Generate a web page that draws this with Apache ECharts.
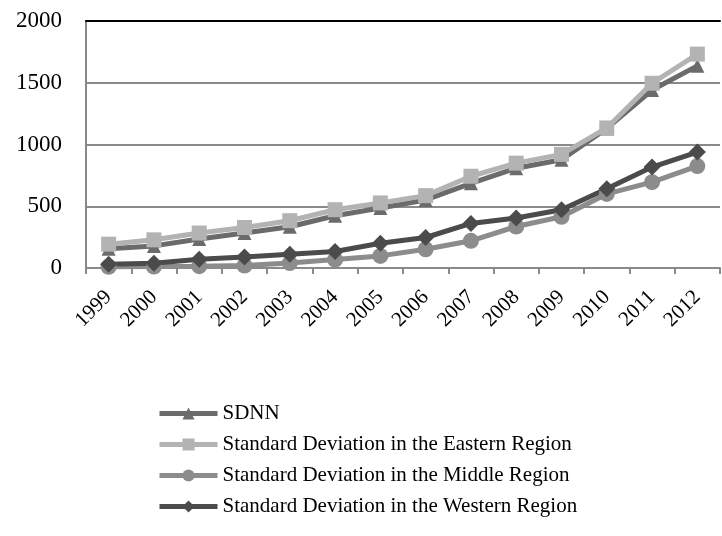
<!DOCTYPE html>
<html>
<head>
<meta charset="utf-8">
<script src="https://cdn.jsdelivr.net/npm/echarts@6/dist/echarts.min.js"></script>
<style>
  html, body { margin: 0; padding: 0; background: #fff; }
  #main { width: 722px; height: 536px; }
</style>
</head>
<body>
<div id="main"></div>
<script>
var years = ['1999','2000','2001','2002','2003','2004','2005','2006','2007','2008','2009','2010','2011','2012'];
var yTicks = [0, 500, 1000, 1500, 2000];

var sdnn    = [155, 179, 235, 283, 334, 423, 486, 551, 686, 808, 877, 1130, 1441, 1637];
var eastern = [193, 228, 283, 328, 383, 472, 527, 586, 743, 849, 920, 1134, 1496, 1732];
var middle  = [10, 12, 15, 20, 40, 68, 98, 152, 220, 336, 415, 600, 695, 825];
var western = [30, 38, 71, 90, 112, 133, 201, 247, 361, 405, 472, 641, 817, 939];

var font = 'Liberation Serif';

var chart = echarts.init(document.getElementById('main'));

// one line series, same look for all four
var mkLine = function(name, data, color, symbol, size){
  return {
    name: name,
    type: 'line',
    data: data,
    symbol: symbol,
    symbolSize: size,
    lineStyle: { color: color, width: 5 },
    itemStyle: { color: color },
    z: 3
  };
};

chart.setOption({
  animation: false,
  backgroundColor: '#fff',
  textStyle: { fontFamily: font },
  grid: { left: 86, right: 2, top: 21, bottom: 268 },
  legend: {
    orient: 'vertical',
    left: 152,
    top: 398,
    itemWidth: 58,
    itemHeight: 15,
    itemGap: 10,
    lineStyle: { width: 5 },
    textStyle: { fontFamily: font, fontSize: 21, color: '#000' },
    data: ['SDNN',
      'Standard Deviation in the Eastern Region',
      'Standard Deviation in the Middle Region',
      'Standard Deviation in the Western Region']
  },
  xAxis: [{
    type: 'category',
    data: years,
    boundaryGap: true,
    axisLine: { lineStyle: { color: '#8a8a8a', width: 2 } },
    axisTick: { show: true, length: 6, lineStyle: { color: '#8a8a8a', width: 2 } },
    axisLabel: { rotate: 45, fontFamily: font, fontSize: 21, color: '#000', margin: 26, interval: 0 },
    splitLine: { show: false }
  }, {
    // black border along the top of the plot
    type: 'category',
    position: 'top',
    data: years,
    axisLine: { lineStyle: { color: '#000', width: 2 } },
    axisTick: { show: false },
    axisLabel: { show: false }
  }],
  yAxis: {
    type: 'value',
    min: yTicks[0],
    max: yTicks[yTicks.length - 1],
    interval: 500,
    axisLine: { show: true, lineStyle: { color: '#8a8a8a', width: 2 } },
    axisTick: { show: false },
    axisLabel: { fontFamily: font, fontSize: 23, color: '#000', margin: 24,
      formatter: function(v){ return String(v); } },
    splitLine: { lineStyle: { color: '#8a8a8a', width: 2 } }
  },
  series: [
    mkLine('SDNN', sdnn, '#6b6b6b', 'triangle', 14),
    mkLine('Standard Deviation in the Eastern Region', eastern, '#b3b3b3', 'rect', 15),
    mkLine('Standard Deviation in the Middle Region', middle, '#8c8c8c', 'circle', 16),
    mkLine('Standard Deviation in the Western Region', western, '#4b4b4b', 'diamond', 17)
  ]
});
</script>
</body>
</html>
